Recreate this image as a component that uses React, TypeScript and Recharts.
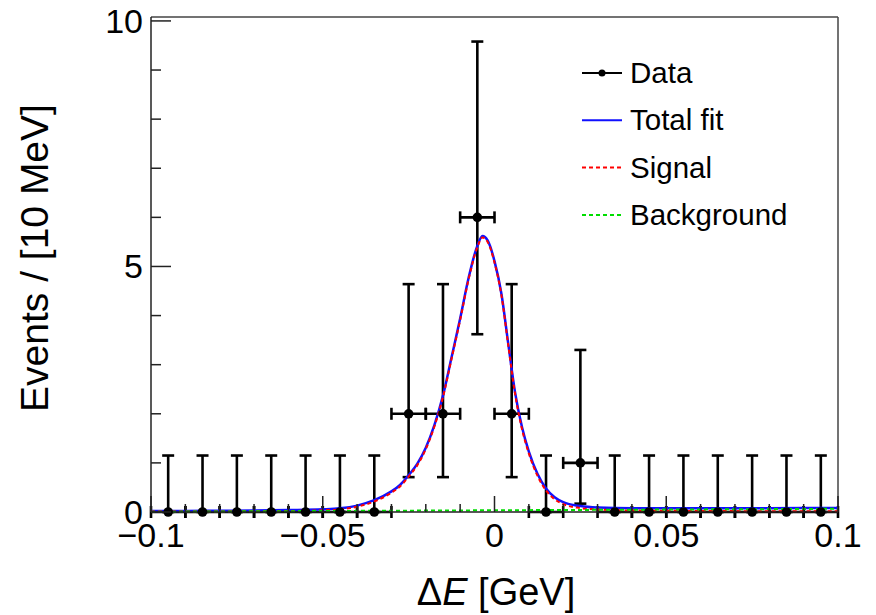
import React from "react";
import { ComposedChart, XAxis, YAxis, Scatter, Line, ErrorBar, ReferenceLine, Label } from "recharts";

// histogram: bin centres of dE [GeV] and event counts
const binCenters = [
  -0.095, -0.085, -0.075, -0.065, -0.055, -0.045, -0.035, -0.025, -0.015, -0.005,
  0.005, 0.015, 0.025, 0.035, 0.045, 0.055, 0.065, 0.075, 0.085, 0.095,
];
const counts = [0, 0, 0, 0, 0, 0, 0, 2, 2, 6, 2, 0, 1, 0, 0, 0, 0, 0, 0, 0];
// poisson intervals (lower / upper bound of each point)
const errLow = [0, 0, 0, 0, 0, 0, 0, 1.29, 1.29, 2.38, 1.29, 0, 0.83, 0, 0, 0, 0, 0, 0, 0];
const errHigh = [1.15, 1.15, 1.15, 1.15, 1.15, 1.15, 1.15, 2.64, 2.64, 3.58, 2.64, 1.15, 2.3, 1.15, 1.15, 1.15, 1.15, 1.15, 1.15, 1.15];
const halfBin = 0.005;

// fit curves
const fitX = [
  -0.1, -0.09, -0.08, -0.07, -0.06, -0.05, -0.045, -0.04, -0.035, -0.03, -0.0275, -0.025,
  -0.0225, -0.02, -0.0175, -0.015, -0.0125, -0.01, -0.0075, -0.005, -0.0035, -0.002, 0,
  0.002, 0.004, 0.006, 0.008, 0.01, 0.0125, 0.015, 0.0175, 0.02, 0.025, 0.03, 0.04, 0.05,
  0.06, 0.07, 0.08, 0.09, 0.1,
];
const totalFit = [
  0.02, 0.02, 0.025, 0.03, 0.04, 0.055, 0.075, 0.13, 0.24, 0.42, 0.55, 0.75,
  0.98, 1.31, 1.77, 2.37, 3.15, 3.94, 4.78, 5.42, 5.62, 5.53, 5.11,
  4.45, 3.43, 2.43, 1.73, 1.23, 0.78, 0.48, 0.3, 0.2, 0.12, 0.09, 0.075, 0.075,
  0.075, 0.077, 0.078, 0.079, 0.08,
];
const signalFit = [
  0.01, 0.01, 0.012, 0.015, 0.02, 0.035, 0.053, 0.107, 0.215, 0.394, 0.52, 0.72,
  0.95, 1.28, 1.74, 2.34, 3.12, 3.91, 4.75, 5.39, 5.59, 5.5, 5.08,
  4.42, 3.4, 2.4, 1.69, 1.19, 0.74, 0.44, 0.26, 0.16, 0.08, 0.05, 0.03, 0.025,
  0.02, 0.018, 0.016, 0.015, 0.014,
];
const bkgX = [-0.1, 0, 0.1];
const bkgFit = [0.005, 0.035, 0.065];

const xTicks = [
  -0.1, -0.09, -0.08, -0.07, -0.06, -0.05, -0.04, -0.03, -0.02, -0.01, 0,
  0.01, 0.02, 0.03, 0.04, 0.05, 0.06, 0.07, 0.08, 0.09, 0.1,
];
const xMajor = [-0.1, -0.05, 0, 0.05, 0.1];
const xLabels = ["\u22120.1", "\u22120.05", "0", "0.05", "0.1"];
const yTicks = [0, 1, 2, 3, 4, 5, 6, 7, 8, 9, 10];
const yMajor = [0, 5, 10];
const yLabels = ["0", "5", "10"];
const Y_MAX = 10.08;

const legendItems = [
  { name: "Data", color: "#000", dash: "", marker: true },
  { name: "Total fit", color: "#1010ff", dash: "", marker: false },
  { name: "Signal", color: "#ff0000", dash: "4 3", marker: false },
  { name: "Background", color: "#00dd00", dash: "4 3", marker: false },
];

const FONT = "'Liberation Sans', Arial, Helvetica, sans-serif";
const PLOT_LEFT = 151;
const PLOT_BOTTOM = 512;

const points = binCenters.map((x, i) => ({
  x,
  y: counts[i],
  ex: halfBin,
  ey: [errLow[i], errHigh[i]],
}));
const totalData = fitX.map((x, i) => ({ x, y: totalFit[i] }));
const signalData = fitX.map((x, i) => ({ x, y: signalFit[i] }));
const bkgData = bkgX.map((x, i) => ({ x, y: bkgFit[i] }));

const XTick = ({ x, payload }: any) => {
  const v = payload.value;
  const idx = xMajor.findIndex((m) => Math.abs(m - v) < 1e-9);
  const major = idx >= 0;
  return (
    <g>
      <line x1={x} x2={x} y1={PLOT_BOTTOM} y2={PLOT_BOTTOM - (major ? 16 : 8)} stroke="#222" strokeWidth={1.5} />
      {major && (
        <text x={x} y={547} textAnchor="middle" fontSize={34} fontFamily={FONT} fill="#000">
          {xLabels[idx]}
        </text>
      )}
    </g>
  );
};

const YTick = ({ y, payload }: any) => {
  const v = payload.value;
  const idx = yMajor.indexOf(v);
  const major = idx >= 0;
  return (
    <g>
      <line x1={PLOT_LEFT} x2={PLOT_LEFT + (major ? 20 : 10)} y1={y} y2={y} stroke="#222" strokeWidth={1.5} />
      {major && (
        <text x={143} y={y + 12} textAnchor="end" fontSize={34} fontFamily={FONT} fill="#000">
          {yLabels[idx]}
        </text>
      )}
    </g>
  );
};

const Dot = (p: any) => <circle cx={p.cx} cy={p.cy} r={4.8} fill="#000" />;

export default function App() {
  return (
    <div style={{ position: "absolute", left: 0, top: 0, width: 876, height: 615, background: "#fff" }}>
      <ComposedChart width={876} height={615} margin={{ top: 17, right: 38, bottom: 43, left: 51 }}>
        <XAxis
          dataKey="x"
          type="number"
          domain={[-0.1, 0.1]}
          ticks={xTicks}
          interval={0}
          height={60}
          tickLine={false}
          tick={<XTick />}
          axisLine={{ stroke: "#222", strokeWidth: 1.5 }}
        >
          <Label
            content={() => (
              <text x={496} y={605} textAnchor="middle" fontSize={38} fontFamily={FONT} fill="#000">
                <tspan>Δ</tspan>
                <tspan fontStyle="italic">E</tspan>
                <tspan> [GeV]</tspan>
              </text>
            )}
          />
        </XAxis>
        <YAxis
          dataKey="y"
          type="number"
          domain={[0, Y_MAX]}
          ticks={yTicks}
          interval={0}
          width={100}
          tickLine={false}
          tick={<YTick />}
          axisLine={{ stroke: "#222", strokeWidth: 1.5 }}
        >
          <Label
            content={() => (
              <text
                transform="translate(48,258) rotate(-90)"
                textAnchor="middle"
                fontSize={39}
                fontFamily={FONT}
                fill="#000"
              >
                Events / [10 MeV]
              </text>
            )}
          />
        </YAxis>
        <ReferenceLine y={Y_MAX} stroke="#444" strokeWidth={1.5} />
        <ReferenceLine x={0.1} stroke="#444" strokeWidth={1.5} />
        <Scatter data={points} shape={Dot} isAnimationActive={false}>
          <ErrorBar dataKey="ey" direction="y" width={6} stroke="#000" strokeWidth={2.6} isAnimationActive={false} />
          <ErrorBar dataKey="ex" direction="x" width={6} stroke="#000" strokeWidth={2.6} isAnimationActive={false} />
        </Scatter>
        <Line data={totalData} dataKey="y" type="monotone" stroke="#1010ff" strokeWidth={2.5} dot={false} isAnimationActive={false} />
        <Line data={signalData} dataKey="y" type="monotone" stroke="#ff0000" strokeWidth={2} strokeDasharray="4 3" dot={false} isAnimationActive={false} />
        <Line data={bkgData} dataKey="y" type="linear" stroke="#00dd00" strokeWidth={2} strokeDasharray="4 3" dot={false} isAnimationActive={false} />
      </ComposedChart>
      <svg width={270} height={200} style={{ position: "absolute", left: 575, top: 45 }}>
        {legendItems.map((d, i) => {
          const cy = 28 + i * 47.3;
          return (
            <g key={d.name}>
              <line x1={7} x2={47} y1={cy} y2={cy} stroke={d.color} strokeWidth={2} strokeDasharray={d.dash || undefined} />
              {d.marker && <circle cx={27} cy={cy} r={3.5} fill="#000" />}
              <text x={55} y={cy + 10} fontSize={29.5} fontFamily={FONT} fill="#000">
                {d.name}
              </text>
            </g>
          );
        })}
      </svg>
    </div>
  );
}
